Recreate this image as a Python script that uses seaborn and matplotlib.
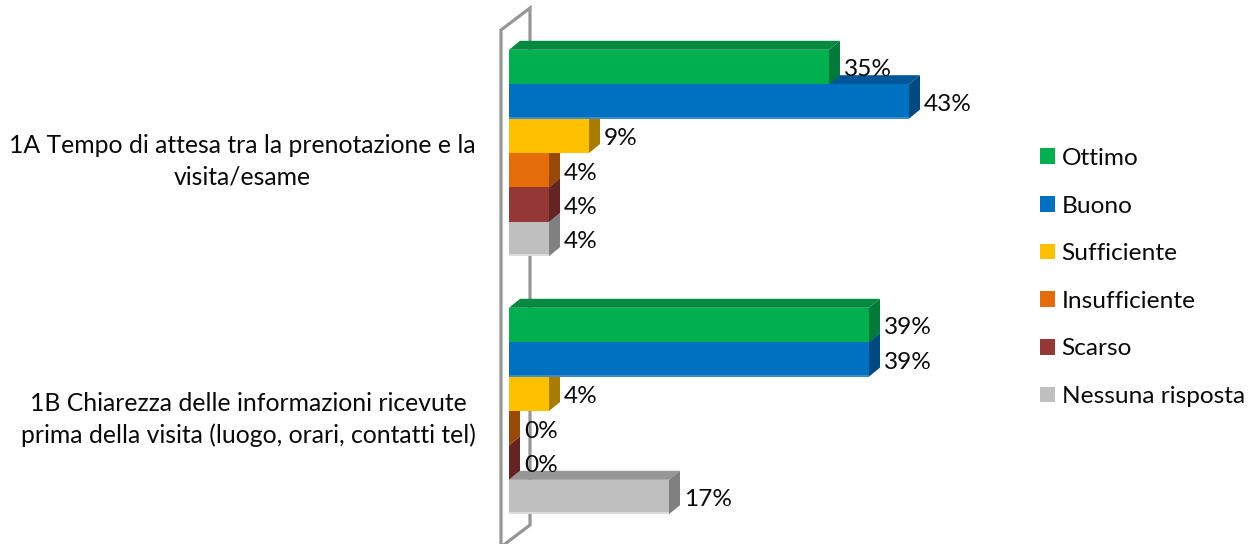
import matplotlib
matplotlib.use("Agg")
import matplotlib.pyplot as plt
import matplotlib.transforms as mtrans
from matplotlib.patches import Polygon, Rectangle
from matplotlib.lines import Line2D
import pandas as pd
import seaborn as sns

categories = ["1A Tempo di attesa tra la prenotazione e la\nvisita/esame",
              "1B Chiarezza delle informazioni ricevute\nprima della visita (luogo, orari, contatti tel)"]
ratings = ["Ottimo", "Buono", "Sufficiente", "Insufficiente", "Scarso", "Nessuna risposta"]
values_1a = [34.78, 43.48, 8.7, 4.35, 4.35, 4.35]
values_1b = [39.13, 39.13, 4.35, 0, 0, 17.39]
front_colors = ["#00B050", "#0070C0", "#FFC000", "#E46C0A", "#953735", "#BFBFBF"]
top_colors = ["#068A42", "#005696", "#C49500", "#B05408", "#742A29", "#969696"]
side_colors = ["#03793A", "#004A80", "#A87C00", "#984807", "#632423", "#808080"]
edge_colors = [None, "#3D8BC9", None, None, None, "#DCDCDC"]

W, H, DPI = 1255, 544, 100
DX, DY = 11, 9
FS = 17.6
FS_TICK = 17.8
sns.set_style("white")
plt.rcParams["font.family"] = ["Lato", "DejaVu Sans"]

df = pd.DataFrame({
    "cat": [categories[0]] * 6 + [categories[1]] * 6,
    "rating": ratings * 2,
    "value": values_1a + values_1b,
})

fig = plt.figure(figsize=(W / DPI, H / DPI), dpi=DPI)
ax = fig.add_axes([509 / W, 1 - 540 / H, 460 / W, 516 / H])
sns.barplot(data=df, y="cat", x="value", hue="rating", hue_order=ratings, order=categories,
            palette=front_colors, saturation=1, width=0.8, gap=0, dodge=True, ax=ax,
            orient="h", errorbar=None, linewidth=0)
ax.set_xlim(0, 50)
ax.set_ylim(1.5, -0.5)
ax.set_xlabel("")
ax.set_ylabel("")
ax.set_xticks([])
sns.despine(ax=ax, left=True, bottom=True)
ax.patch.set_alpha(0)
ax.tick_params(axis="y", length=0, pad=24, labelsize=FS_TICK)
for lab in ax.get_yticklabels():
    lab.set_multialignment("center")
    lab.set_linespacing(1.45)
    lab.set_color("#0a0a0a")
    lab.set_transform(lab.get_transform() + mtrans.ScaledTranslation(0, -2 / DPI, fig.dpi_scale_trans))

# wall of the 3D frame
px = mtrans.IdentityTransform()
ox = ax.transData.transform((0, 0))[0]
wx = [ox + 21, ox + 21, ox - 8, ox - 8, ox + 21, ox + 21]
wy = [H - 300, H - 8, H - 30, H - 547, H - 525, H - 300]
fig.add_artist(Line2D(wx, wy, transform=px, color="#969696", lw=2.3, zorder=0.5, solid_joinstyle="miter"))
ax.set_zorder(2)

# 3D faces built from the drawn bars
for i, cont in enumerate(ax.containers):
    z = 10 - i
    for bar in cont:
        bar.set_zorder(z + 0.3)
        (x0, y0), (x1, y1) = ax.transData.transform(
            [(bar.get_x(), bar.get_y() + bar.get_height()), (bar.get_x() + bar.get_width(), bar.get_y())])
        top = [(x0, y1), (x1, y1), (x1 + DX, y1 + DY), (x0 + DX, y1 + DY)]
        side = [(x1, y0), (x1 + DX, y0 + DY), (x1 + DX, y1 + DY), (x1, y1)]
        ax.add_patch(Polygon(top, transform=px, color=top_colors[i], lw=0, zorder=z, clip_on=False))
        ax.add_patch(Polygon(side, transform=px, color=side_colors[i], lw=0, zorder=z + 0.1, clip_on=False))
        if edge_colors[i] and bar.get_width() > 0:
            ax.add_patch(Rectangle((x0, y0), x1 - x0, 2, transform=px, color=edge_colors[i], lw=0,
                                   zorder=z + 0.4, clip_on=False))
        ax.annotate(f"{bar.get_width():.0f}%", xy=(bar.get_width(), bar.get_y() + bar.get_height() / 2),
                    xytext=((DX + 4) * 72 / DPI, -3 * 72 / DPI), textcoords="offset points",
                    ha="left", va="center", fontsize=FS, color="#0a0a0a", zorder=20, annotation_clip=False)

handles = [Rectangle((0, 0), 1, 1, color=c, lw=0) for c in front_colors]
hsize = 15 * 72 / DPI / FS
ax.legend(handles, ratings, loc="center left", bbox_to_anchor=(1040 / W, 1 - 277.5 / H),
          bbox_transform=fig.transFigure, frameon=False, fontsize=FS, handlelength=hsize, handleheight=hsize,
          handletextpad=6.5 * 72 / DPI / FS, labelspacing=1.09, borderpad=0, borderaxespad=0, labelcolor="#0a0a0a")

fig.savefig("out.png", dpi=DPI)
